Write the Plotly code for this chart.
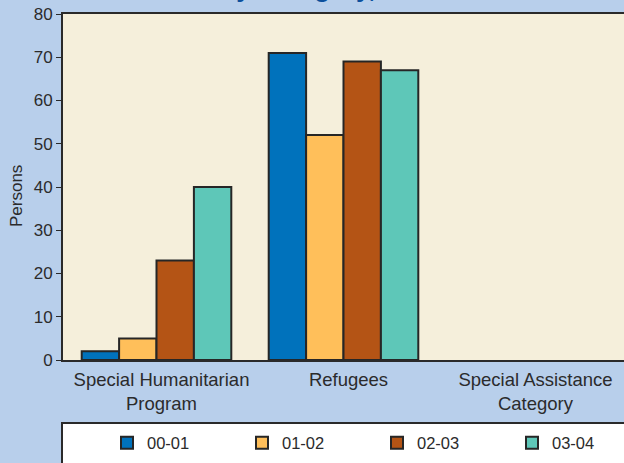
import plotly.graph_objects as go

# Visa categories and yearly grant counts
categories = ["Special Humanitarian<br>Program", "Refugees", "Special Assistance<br>Category"]
years = ["00-01", "01-02", "02-03", "03-04"]
grants_0001 = [2, 71, 0]
grants_0102 = [5, 52, 0]
grants_0203 = [23, 69, 0]
grants_0304 = [40, 67, 0]
y_ticks = [0, 10, 20, 30, 40, 50, 60, 70, 80]

series = [grants_0001, grants_0102, grants_0203, grants_0304]
colors = ["#0072bc", "#ffbf5a", "#b45415", "#5ec7b8"]

W, H = 624, 463
ML, MR, MT, MB = 63, 0, 14, 103
PW, PH = W - ML - MR, H - MT - MB


def px_x(px):
    return (px - ML) / PW


def px_y(py):
    return (H - MB - py) / PH


fig = go.Figure()
for name, vals, col in zip(years, series, colors):
    fig.add_trace(go.Bar(
        x=categories, y=vals, name=name,
        marker=dict(
            color=col,
            # empty categories get no outline so nothing sits on the baseline
            line=dict(color="#262626", width=[2 if v > 0 else 0 for v in vals]),
        ),
    ))

font_family = "Liberation Sans, Arial, sans-serif"
text_col = "#2b2b2b"

fig.update_layout(
    width=W, height=H,
    margin=dict(l=ML, r=MR, t=MT, b=MB, pad=0, autoexpand=False),
    paper_bgcolor="#b8cfeb",
    plot_bgcolor="#f5efdb",
    barmode="group",
    bargap=0.2,
    bargroupgap=0,
    font=dict(family=font_family, color=text_col, size=17),
    xaxis=dict(
        range=[-0.5, 2.5],
        showline=True, linecolor="#2a2a2a", linewidth=2, mirror=True,
        ticks="", showgrid=False, zeroline=False,
        tickfont=dict(size=18.5, color=text_col),
        ticklabelstandoff=2,
        ticklabelshift=5,
        fixedrange=True,
    ),
    yaxis=dict(
        range=[0, 80],
        tickvals=y_ticks,
        showline=True, linecolor="#2a2a2a", linewidth=2,
        ticks="outside", ticklen=5, tickwidth=1, tickcolor="#2a2a2a",
        showgrid=False, zeroline=False,
        tickfont=dict(size=17, color=text_col),
        fixedrange=True,
    ),
    showlegend=True,
    legend=dict(
        orientation="h",
        x=px_x(107), xanchor="left",
        y=px_y(443), yanchor="middle",
        bgcolor="rgba(0,0,0,0)",
        borderwidth=0,
        entrywidth=90, entrywidthmode="pixels",
        font=dict(size=16.5, color=text_col),
        traceorder="normal",
    ),
    shapes=[dict(
        type="rect", xref="paper", yref="paper",
        x0=px_x(62), x1=px_x(700), y0=px_y(423), y1=px_y(520),
        fillcolor="white", line=dict(color="#2a2a2a", width=2),
        layer="above",
    )],
    annotations=[
        dict(
            text="Persons", textangle=-90,
            xref="paper", yref="paper", x=px_x(16), y=px_y(196),
            xanchor="center", yanchor="middle", showarrow=False,
            font=dict(size=17, color=text_col),
        ),
        dict(
            text="<b>Visa Grants by Category, 2000–01 to 2003–04</b>",
            xref="paper", yref="paper", x=px_x(67), y=px_y(5),
            xanchor="left", yanchor="bottom", showarrow=False,
            font=dict(size=26, color="#0b4f9c"),
        ),
    ],
)

fig.write_html("out.html")
